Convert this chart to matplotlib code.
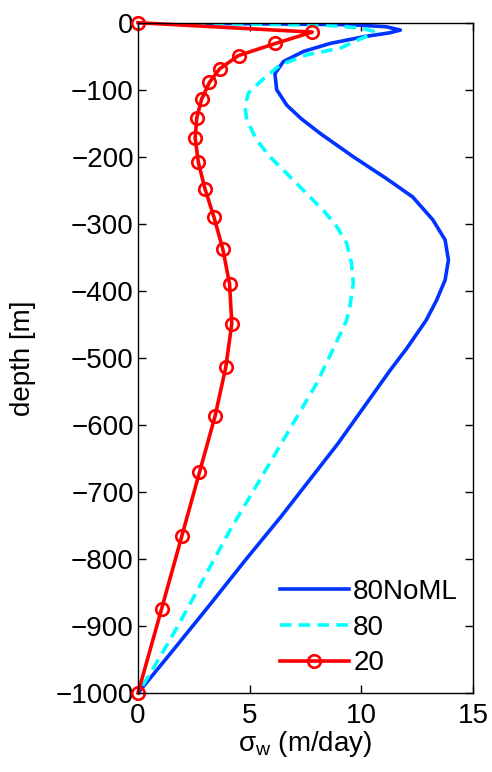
import matplotlib
matplotlib.use("Agg")
import matplotlib.pyplot as plt

plt.rcParams['font.family'] = ['Liberation Sans', 'DejaVu Sans']
plt.rcParams['mathtext.fontset'] = 'custom'
plt.rcParams['mathtext.rm'] = 'Liberation Sans'
plt.rcParams['mathtext.it'] = 'Liberation Sans'

# 80NoML run (solid blue)
depth_noml = [0, -1.5, -3, -6, -11, -15, -21, -31, -43, -58, -76, -100, -123, -143,
              -165, -200, -232, -260, -294, -324, -354, -384, -414, -444, -486,
              -518, -628, -737, -802, -867, -937, -1000]
sigma_noml = [0, 5.0, 9.5, 11.1, 11.75, 11.28, 10.09, 8.6, 7.4, 6.51, 6.13, 6.21, 6.66, 7.3,
              8.15, 9.64, 11.1, 12.3, 13.2, 13.75, 13.9, 13.75, 13.37, 12.9, 12.03,
              11.3, 8.95, 6.4, 4.8, 3.25, 1.55, 0]

# 80 run (dashed cyan)
depth_80 = [0, -2, -4, -8, -13, -18, -25, -38, -48, -63, -86, -105, -125, -145, -175,
            -200, -225, -255, -280, -304, -329, -359, -389, -420, -444, -486, -538,
            -648, -757, -812, -867, -921, -971, -1000]
sigma_80 = [0, 5.0, 8.5, 10.0, 10.55, 10.4, 9.9, 9.05, 7.55, 6.36, 5.54, 4.94, 4.79, 4.87, 5.31,
            5.91, 6.66, 7.55, 8.3, 8.9, 9.34, 9.56, 9.64, 9.5, 9.34, 8.75, 8.0,
            6.06, 4.12, 3.22, 2.33, 1.43, 0.54, 0]

# 20 run (red with circles)
depth_20 = [0, -14, -31, -49, -69, -89, -114, -142, -172, -208, -248, -290, -338,
            -390, -449, -514, -587, -671, -766, -874, -1000]
sigma_20 = [0, 7.8, 6.15, 4.5, 3.65, 3.2, 2.85, 2.63, 2.56, 2.7, 3.0, 3.4, 3.8,
            4.1, 4.2, 3.93, 3.45, 2.75, 1.96, 1.06, 0]

fig = plt.figure(figsize=(4.92, 7.72), dpi=100)
ax = fig.add_axes([0.2805, 0.1023, 0.6809, 0.8683])

ax.plot(sigma_noml, depth_noml, color='#0033ff', lw=2.6, label='80NoML')
ax.plot(sigma_80, depth_80, color='#00ffff', lw=2.6, dashes=(3.2, 2.0), label='80')
ax.plot(sigma_20, depth_20, color='#ff0000', lw=2.6, marker='o', markersize=9,
        markerfacecolor='none', markeredgewidth=1.9, clip_on=False, label='20')

ax.set_xlim(0, 15)
ax.set_ylim(-1000, 0)
ax.set_xticks([0, 5, 10, 15])
ax.set_yticks(range(-1000, 1, 100))
ax.tick_params(direction='in', length=6, width=1, labelsize=20,
               top=True, right=True)
ax.tick_params(axis='x', pad=7)
ax.tick_params(axis='y', pad=3)
for s in ax.spines.values():
    s.set_linewidth(1.0)

ax.set_xlabel(r'$\mathregular{\sigma_w}$ (m/day)', fontsize=20, labelpad=0)
ax.set_ylabel('depth [m]', fontsize=20, labelpad=14)

ax.legend(loc='lower right', bbox_to_anchor=(0.955, 0.025), frameon=False, fontsize=20,
          handlelength=2.5, handletextpad=0.15, labelspacing=0.35, borderpad=0,
          borderaxespad=0)

fig.savefig('out.png', dpi=100)
